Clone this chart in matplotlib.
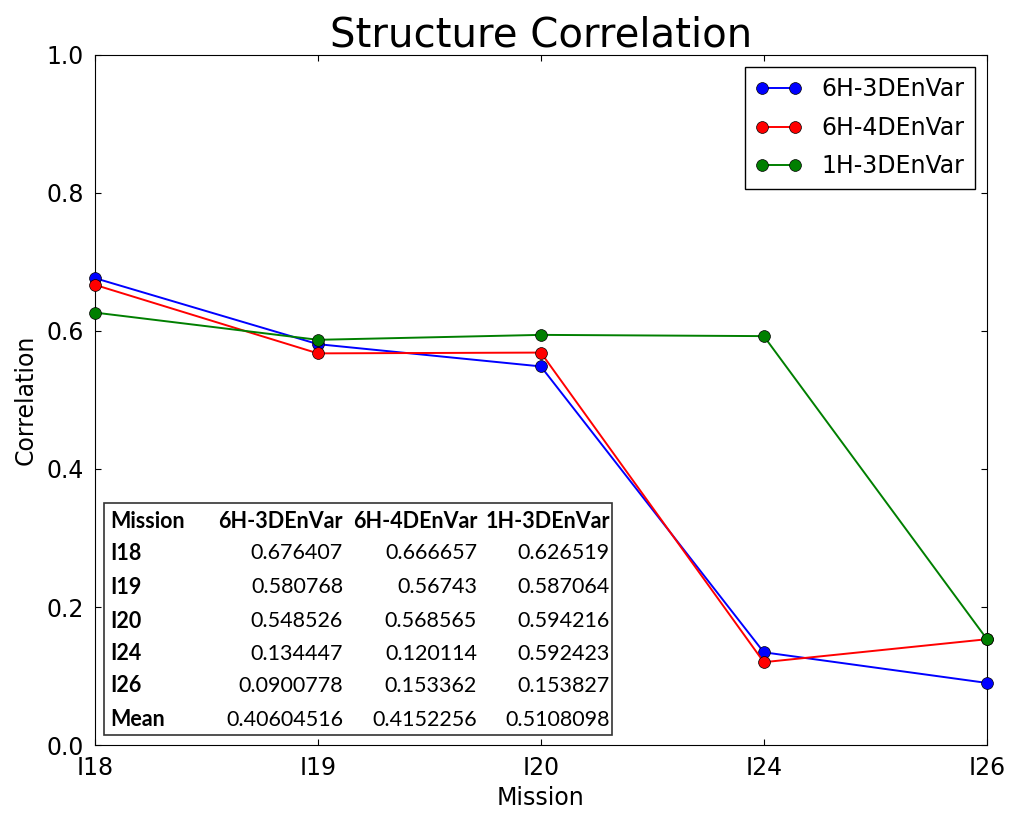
import matplotlib
matplotlib.use("Agg")
import matplotlib.pyplot as plt
import numpy as np
from matplotlib.patches import Rectangle

missions = ["I18", "I19", "I20", "I24", "I26"]
s_6h3d = [0.676407, 0.580768, 0.548526, 0.134447, 0.0900778]
s_6h4d = [0.666657, 0.56743, 0.568565, 0.120114, 0.153362]
s_1h3d = [0.626519, 0.587064, 0.594216, 0.592423, 0.153827]
series_names = ["6H-3DEnVar", "6H-4DEnVar", "1H-3DEnVar"]
series_colors = ["blue", "red", "#007f00"]
mean_labels = ["0.40604516", "0.4152256", "0.5108098"]
table_vals = {
    "6H-3DEnVar": ["0.676407", "0.580768", "0.548526", "0.134447", "0.0900778"],
    "6H-4DEnVar": ["0.666657", "0.56743", "0.568565", "0.120114", "0.153362"],
    "1H-3DEnVar": ["0.626519", "0.587064", "0.594216", "0.592423", "0.153827"],
}

fig = plt.figure(figsize=(10.1, 8.17), dpi=100)
ax = fig.add_axes([0.094, 0.088, 0.883, 0.845])
x = np.arange(len(missions))
for vals, col, name in zip([s_6h3d, s_6h4d, s_1h3d], series_colors, series_names):
    ax.plot(x, vals, "-o", color=col, mfc=col, mec="black", mew=0.5, ms=8.5,
            lw=1.4, label=name, clip_on=False, zorder=3)

ax.set_xlim(0, 4)
ax.set_ylim(0, 1.0)
ax.set_xticks(x)
ax.set_xticklabels(missions)
ax.set_yticks(np.arange(0, 1.01, 0.2))
ax.tick_params(direction="in", top=True, right=True, labelsize=17, length=4.5, pad=8)
ax.set_title("Structure Correlation", fontsize=29, pad=6)
ax.set_xlabel("Mission", fontsize=17, labelpad=4)
ax.set_ylabel("Correlation", fontsize=17, labelpad=6)
leg = ax.legend(loc="upper right", fontsize=17, numpoints=2, fancybox=False,
                handlelength=2.0, borderpad=0.45, labelspacing=0.62, framealpha=1)
leg.get_frame().set_edgecolor("black")
leg.get_frame().set_linewidth(1.0)

W, H = 1010, 817
def fx(px): return px / W
def fy(py): return 1 - py / H
fig.patches.append(Rectangle((fx(104), fy(735)), fx(612) - fx(104), fy(503) - fy(735),
                             transform=fig.transFigure, fill=True, fc="white",
                             ec="#333333", lw=1.2, zorder=5))
tfont = "Lato"
tsize = 15.5
row_y = [521, 553, 587, 621, 654, 686, 720]
col_r = [343, 477, 610]
rows = ["Mission"] + missions + ["Mean"]
for ry, lab in zip(row_y, rows):
    fig.text(fx(110), fy(ry), lab, fontsize=tsize, fontweight="bold", family=tfont,
             va="center", ha="left", zorder=6)
for cr, name, m in zip(col_r, series_names, mean_labels):
    fig.text(fx(cr), fy(row_y[0]), name, fontsize=tsize, fontweight="bold", family=tfont,
             va="center", ha="right", zorder=6)
    cells = table_vals[name] + [m]
    for ry, v in zip(row_y[1:], cells):
        fig.text(fx(cr), fy(ry), v, fontsize=tsize, family=tfont,
                 va="center", ha="right", zorder=6)

fig.savefig("out.png", dpi=100, facecolor="white")
